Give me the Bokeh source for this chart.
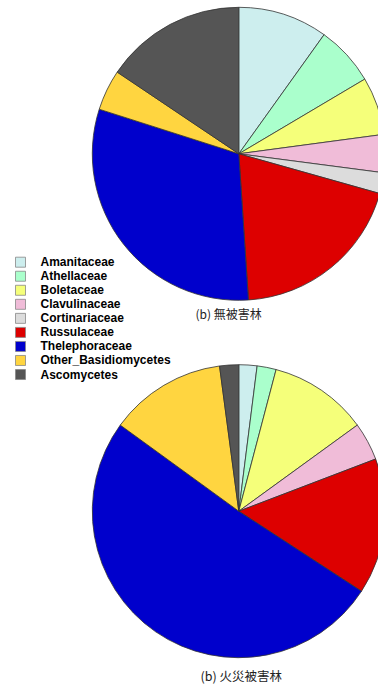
import math
import pandas as pd
from bokeh.plotting import figure
from bokeh.models import Range1d, ColumnDataSource
from bokeh.core.properties import value
from bokeh.embed import file_html
from bokeh.resources import INLINE

# ---- data ----
categories = ["Amanitaceae", "Athellaceae", "Boletaceae", "Clavulinaceae",
              "Cortinariaceae", "Russulaceae", "Thelephoraceae",
              "Other_Basidiomycetes", "Ascomycetes"]
no_damage = [9.9, 6.6, 6.4, 4.2, 2.3, 19.6, 31.0, 4.5, 15.6]      # (b) 無被害林
fire_damage = [2.0, 2.1, 10.9, 4.2, 0.0, 15.0, 50.8, 12.9, 2.1]   # (b) 火災被害林
colors = ["#cdeeee", "#aaffcc", "#f5ff7a", "#f0bcd8", "#dcdcdc",
          "#dd0000", "#0000cc", "#ffd540", "#555555"]
captions = ["(b) 無被害林", "(b) 火災被害林"]

W, H = 378, 684
p = figure(width=W, height=H, output_backend="svg", toolbar_location=None,
           x_range=Range1d(0, W), y_range=Range1d(0, H),
           min_border=0, min_border_left=0, min_border_right=0,
           min_border_top=0, min_border_bottom=0)
p.axis.visible = False
p.grid.visible = False
p.outline_line_color = None
p.background_fill_color = "white"
p.border_fill_color = "white"

R = 146.5
CX = 238.3


def pie(values, cy):
    df = pd.DataFrame({"cat": categories, "val": values, "color": colors})
    total = df["val"].sum()
    df["frac"] = df["val"] / total
    df["end"] = df["frac"].cumsum()
    df["start"] = df["end"] - df["frac"]
    df = df[df["val"] > 0].copy()
    df["sa"] = math.pi / 2 - df["start"] * 2 * math.pi
    df["ea"] = math.pi / 2 - df["end"] * 2 * math.pi
    df["x"] = CX
    df["y"] = cy
    src = ColumnDataSource(df)
    p.wedge(x="x", y="y", radius=R, radius_units="data",
            start_angle="sa", end_angle="ea", direction="clock",
            fill_color="color", line_color="#333333", line_width=0.8,
            source=src)


pie(no_damage, H - 153.3)
pie(fire_damage, H - 510.7)

# legend
ly0 = 261.7
step = 14.04
lsrc = ColumnDataSource(dict(
    x=[20] * len(categories),
    y=[H - (ly0 + i * step) for i in range(len(categories))],
    tx=[40] * len(categories),
    label=categories,
    color=colors,
))
p.rect(x="x", y="y", width=10, height=10, fill_color="color",
       line_color="#888888", line_width=0.8, source=lsrc)
p.text(x="tx", y="y", text="label", source=lsrc,
       text_font=value("Liberation Sans"), text_font_style="bold",
       text_font_size="12px", text_baseline="middle", text_align="left",
       text_color="black")

# captions
csrc = ColumnDataSource(dict(x=[195, 200], y=[H - 313, H - 675], t=captions,
                             fs=["12px", "12.5px"]))
p.text(x="x", y="y", text="t", source=csrc,
       text_font=value("Noto Sans CJK JP"), text_font_size="fs",
       text_baseline="middle", text_align="left", text_color="#222222")

open("out.html", "w").write(file_html(p, INLINE))
